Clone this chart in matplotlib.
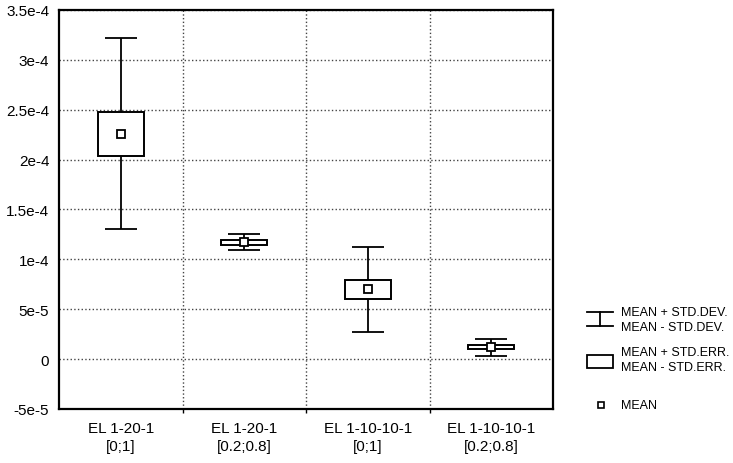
import matplotlib.pyplot as plt
import numpy as np

plt.rcParams['font.family'] = ['Liberation Sans', 'DejaVu Sans']

# valores
categorias = ['EL 1-20-1\n[0;1]', 'EL 1-20-1\n[0.2;0.8]',
              'EL 1-10-10-1\n[0;1]', 'EL 1-10-10-1\n[0.2;0.8]']
media = np.array([2.26e-4, 1.17e-4, 7.0e-5, 1.2e-5])
std_dev = np.array([9.55e-5, 8.0e-6, 4.25e-5, 8.5e-6])
std_err = np.array([2.2e-5, 2.5e-6, 9.5e-6, 2.0e-6])

yticks = [-5e-5, 0, 5e-5, 1e-4, 1.5e-4, 2e-4, 2.5e-4, 3e-4, 3.5e-4]
ytick_labels = ['-5e-5', '0', '5e-5', '1e-4', '1.5e-4', '2e-4', '2.5e-4', '3e-4', '3.5e-4']

fig = plt.figure(figsize=(7.33, 4.64), dpi=100)
ax = fig.add_axes([0.0805, 0.1164, 0.674, 0.860])

x = np.arange(len(categorias))

# media +- desviacion tipica
ax.errorbar(x, media, yerr=std_dev, fmt='none', ecolor='black',
            elinewidth=1.3, capsize=11.5, capthick=1.3, zorder=2)
# media +- error tipico
ax.bar(x, 2 * std_err, bottom=media - std_err, width=0.37,
       facecolor='white', edgecolor='black', linewidth=1.4, zorder=3)
# media
ax.plot(x, media, linestyle='none', marker='s', markersize=5.5,
        markerfacecolor='white', markeredgecolor='black',
        markeredgewidth=1.3, zorder=4)

ax.set_xlim(-0.5, 3.5)
ax.set_ylim(-5e-5, 3.5e-4)
ax.set_xticks(x)
ax.set_xticklabels(categorias, fontsize=11, linespacing=1.35)
ax.set_xticks([0.5, 1.5, 2.5], minor=True)
ax.set_yticks(yticks)
ax.set_yticklabels(ytick_labels, fontsize=11)
ax.tick_params(axis='x', which='major', length=0, pad=9)
ax.tick_params(axis='x', which='minor', length=3, width=1, direction='out')
ax.tick_params(axis='y', length=0, pad=7)

ax.grid(True, axis='y', which='major', linestyle=':', color='#444444', linewidth=1)
ax.grid(True, axis='x', which='minor', linestyle=':', color='#444444', linewidth=1)
ax.set_axisbelow(True)
for s in ax.spines.values():
    s.set_linewidth(1.6)
    s.set_color('black')

# leyenda dibujada a mano en coordenadas de pixel
lax = fig.add_axes([0, 0, 1, 1])
lax.set_xlim(0, 733)
lax.set_ylim(464, 0)
lax.axis('off')
lax.plot([587, 613], [313, 313], color='black', lw=1.3)
lax.plot([587, 613], [327, 327], color='black', lw=1.3)
lax.plot([600, 600], [313, 327], color='black', lw=1.3)
lax.add_patch(plt.Rectangle((587, 356), 26, 13, facecolor='white',
                            edgecolor='black', lw=1.3))
lax.plot([601], [406], linestyle='none', marker='s', markersize=5,
         markerfacecolor='white', markeredgecolor='black', markeredgewidth=1.2)

fs = 9
lax.text(621, 313, 'MEAN + STD.DEV.', fontsize=fs, va='center', ha='left')
lax.text(621, 328, 'MEAN - STD.DEV.', fontsize=fs, va='center', ha='left')
lax.text(621, 353, 'MEAN + STD.ERR.', fontsize=fs, va='center', ha='left')
lax.text(621, 368, 'MEAN - STD.ERR.', fontsize=fs, va='center', ha='left')
lax.text(621, 406, 'MEAN', fontsize=fs, va='center', ha='left')

plt.savefig('out.png', dpi=100)
